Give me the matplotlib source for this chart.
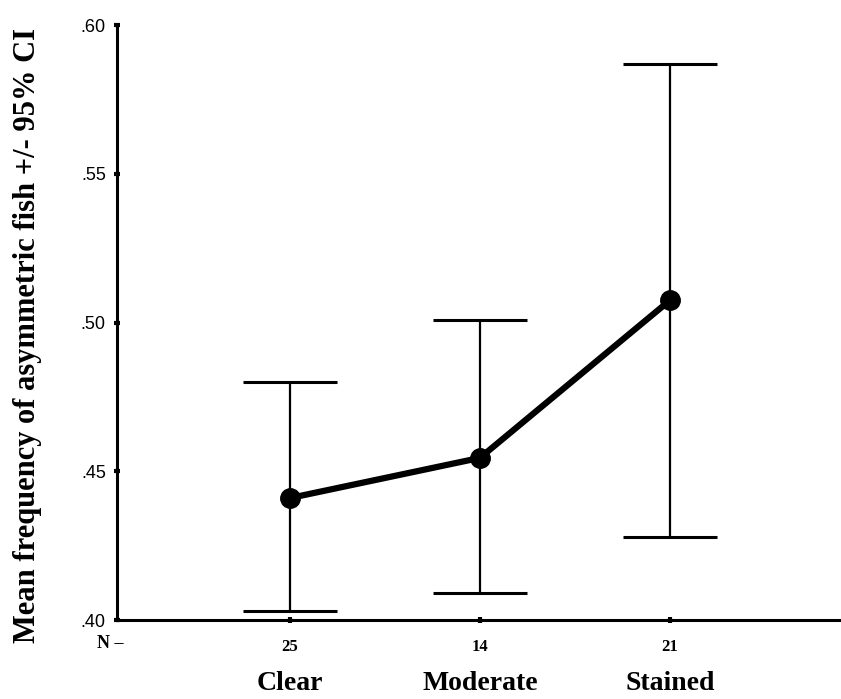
import numpy as np
import matplotlib.pyplot as plt
from matplotlib.transforms import blended_transform_factory

# water clarity groups, sample sizes and mean frequency with 95% CI bounds
groups = ['Clear', 'Moderate', 'Stained']
n_fish = [25, 14, 21]
means = [0.441, 0.4545, 0.5075]
ci_low = [0.403, 0.409, 0.428]
ci_high = [0.480, 0.501, 0.587]
yticks = [0.40, 0.45, 0.50, 0.55, 0.60]
ytick_labels = ['.40', '.45', '.50', '.55', '.60']

serif = 'Liberation Serif'
sans = 'Liberation Sans'

fig = plt.figure(figsize=(8.41, 6.99), dpi=100)
ax = fig.add_axes([0.139, 0.113, 0.861, 0.851])

x = np.arange(1, len(groups) + 1)
means = np.array(means)
yerr = [means - np.array(ci_low), np.array(ci_high) - means]

ax.errorbar(x, means, yerr=yerr, fmt='none', ecolor='black', elinewidth=1.6,
            capsize=34, capthick=2.2, zorder=2)
ax.plot(x, means, color='black', linewidth=4.5, marker='o', markersize=14, zorder=3)

ax.set_xlim(0.09, 3.9)
ax.set_ylim(0.40, 0.60)

for side in ['top', 'right']:
    ax.spines[side].set_visible(False)
for side in ['left', 'bottom']:
    ax.spines[side].set_linewidth(2.2)

ax.set_yticks(yticks)
ax.set_yticklabels(ytick_labels, fontfamily=sans, fontsize=13)
ax.set_xticks(x)
ax.set_xticklabels([str(n) for n in n_fish], fontfamily=serif, fontweight='bold', fontsize=12)
ax.tick_params(axis='both', direction='inout', length=4, width=3)
ax.tick_params(axis='x', pad=12)
ax.tick_params(axis='y', pad=6)

# N label and group names below the axis
fig.text(0.115, 0.080, 'N \u2013', fontfamily=serif, fontweight='bold', fontsize=13,
         ha='left', va='center')
trans = blended_transform_factory(ax.transData, fig.transFigure)
for xi, g in zip(x, groups):
    ax.text(xi, 0.022, g, transform=trans, fontfamily=serif, fontweight='bold',
            fontsize=20, ha='center', va='center')

ax.set_ylabel('Mean frequency of asymmetric fish +/- 95% CI', fontfamily=serif,
              fontweight='bold', fontsize=22)
ax.yaxis.set_label_coords(-0.104, 0.478)

fig.savefig('out.png', dpi=100)
